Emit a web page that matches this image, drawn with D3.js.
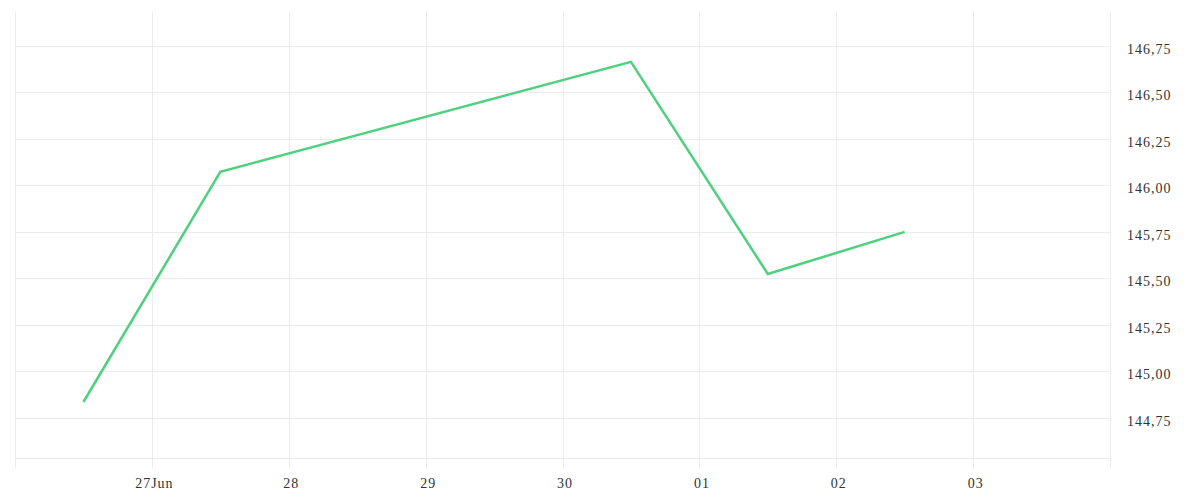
<!DOCTYPE html>
<html>
<head>
<meta charset="utf-8">
<script src="https://cdn.jsdelivr.net/npm/d3@7"></script>
<style>
  html, body { margin: 0; padding: 0; background: #fff; }
  svg { display: block; }
  .tick text { font-family: "Liberation Serif", serif; font-size: 14px; letter-spacing: 1px; fill: #333; }
</style>
</head>
<body>
<svg id="chart" width="1200" height="500"></svg>
<script>
// data
const dates = ['2025-06-26T12:00Z', '2025-06-27T12:00Z', '2025-06-30T12:00Z', '2025-07-01T12:00Z', '2025-07-02T12:00Z'];
const prices = [144.836, 146.073, 146.664, 145.524, 145.75];
const yTicks = [144.75, 145.00, 145.25, 145.50, 145.75, 146.00, 146.25, 146.50, 146.75];
const xDomain = ['2025-06-26T00:00Z', '2025-07-04T00:00Z'];
const yDomain = [144.535, 146.932];

const W = 1200, H = 500;
const m = { top: 12, right: 90, bottom: 42, left: 15 };
const gridColor = '#ececec';

const svg = d3.select('#chart');
const x = d3.scaleUtc().domain(xDomain.map(d => new Date(d))).range([m.left, W - m.right]);
const y = d3.scaleLinear().domain(yDomain).range([H - m.bottom, m.top]);

// horizontal grid at each tick plus the base line
const hLines = yTicks.concat([yDomain[0]]);
svg.append('g').selectAll('line').data(hLines).join('line')
  .attr('x1', m.left).attr('x2', W - m.right)
  .attr('y1', d => Math.round(y(d)) + .5).attr('y2', d => Math.round(y(d)) + .5)
  .attr('stroke', gridColor).attr('stroke-width', 1);

// vertical grid, one per day, running a little under the plot
const days = d3.utcDay.range(x.domain()[0], d3.utcDay.offset(x.domain()[1], 1));
svg.append('g').selectAll('line').data(days).join('line')
  .attr('x1', d => Math.round(x(d)) + .5).attr('x2', d => Math.round(x(d)) + .5)
  .attr('y1', m.top).attr('y2', H - m.bottom + 10)
  .attr('stroke', gridColor).attr('stroke-width', 1);

// x axis labels (edge days left blank)
const fmtDay = d3.utcFormat('%d');
const labelDays = days.slice(1, -1);
const xAxis = d3.axisBottom(x)
  .tickValues(labelDays)
  .tickSize(0).tickPadding(0)
  .tickFormat((d, i) => i === 0 ? fmtDay(d) + 'Jun' : fmtDay(d));
const gx = svg.append('g').attr('transform', `translate(0,${H - m.bottom})`).call(xAxis);
gx.select('.domain').remove();
gx.selectAll('.tick text').attr('y', 30).attr('dy', 0).attr('dx', 2);

// y axis on the right
const fmtY = v => d3.format('.2f')(v).replace('.', ',');
const yAxis = d3.axisRight(y).tickValues(yTicks).tickSize(0).tickPadding(0).tickFormat(fmtY);
const gy = svg.append('g').attr('transform', `translate(${W - m.right + 17},0)`).call(yAxis);
gy.select('.domain').remove();
gy.selectAll('.tick text').attr('dy', '0.52em').attr('x', 0);

// price line
const line = d3.line()
  .x((d, i) => x(new Date(dates[i])))
  .y(d => y(d));
svg.append('path')
  .datum(prices)
  .attr('d', line)
  .attr('fill', 'none')
  .attr('stroke', '#4dd17e')
  .attr('stroke-width', 2.5)
  .attr('stroke-linejoin', 'miter');
</script>
</body>
</html>
